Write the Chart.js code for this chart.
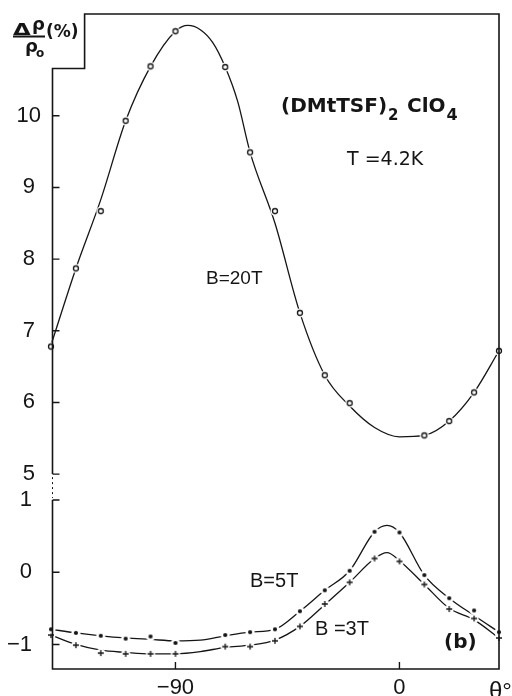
<!DOCTYPE html>
<html>
<head>
<meta charset="utf-8">
<script src="https://cdn.jsdelivr.net/npm/chart.js@4"></script>
<style>
  html, body { margin: 0; padding: 0; background: #fff; }
  canvas { display: block; }
</style>
</head>
<body>
<canvas id="mrChart" width="512" height="696"></canvas>
<script>
// B = 20T, measured points (angle in degrees, delta rho / rho0 in %)
const angles20T = [-140, -130, -120, -110, -100, -90, -70, -60, -50, -40, -30, -20, 10, 20, 30, 40];
const points20T = [6.78, 7.87, 8.67, 9.93, 10.69, 11.18, 10.68, 9.49, 8.67, 7.25, 6.38, 5.99, 5.54, 5.74, 6.14, 6.72];
// hand drawn curve through the 20T points
const fitAngles20T = [-140, -130, -120, -110, -100, -90, -85, -80, -75, -70, -65, -60, -50, -40, -30, -20, -10, 0, 10, 20, 30, 40];
const fit20T = [6.8, 7.87, 8.83, 9.93, 10.69, 11.18, 11.26, 11.2, 11.02, 10.68, 10.2, 9.49, 8.5, 7.25, 6.38, 5.95, 5.65, 5.52, 5.54, 5.74, 6.14, 6.72];

// B = 5T and B = 3T, measured points
const anglesLow = [-140, -130, -120, -110, -100, -90, -70, -60, -50, -40, -30, -20, -10, 0, 10, 20, 30, 40];
const points5T = [-0.79, -0.84, -0.88, -0.92, -0.89, -0.98, -0.87, -0.83, -0.79, -0.54, -0.25, 0.02, 0.56, 0.55, -0.04, -0.36, -0.53, -0.83];
const points3T = [-0.87, -1.01, -1.12, -1.13, -1.13, -1.13, -1.03, -1.03, -0.95, -0.75, -0.44, -0.14, 0.19, 0.15, -0.17, -0.51, -0.64, -0.91];
// curves through them
const fitAnglesLow = [-140, -130, -120, -110, -100, -90, -80, -70, -60, -50, -40, -30, -20, -10, -5, 0, 10, 20, 30, 40];
const fit5T = [-0.79, -0.84, -0.88, -0.91, -0.93, -0.95, -0.94, -0.88, -0.83, -0.79, -0.54, -0.25, 0.02, 0.56, 0.65, 0.55, -0.04, -0.36, -0.6, -0.83];
const fit3T = [-0.87, -1.0, -1.08, -1.11, -1.13, -1.13, -1.1, -1.04, -1.01, -0.94, -0.75, -0.45, -0.14, 0.19, 0.27, 0.16, -0.17, -0.5, -0.66, -0.91];

// tick labels
const xTicks = [-90, 0];
const yTopTicks = [5, 6, 7, 8, 9, 10];
const yBotTicks = [-1, 0, 1];

const ink = '#151515';
const tickFont = { family: 'Liberation Sans', size: 22 };

function pairs(xs, ys) {
  return xs.map((x, i) => ({ x: x, y: ys[i] }));
}

function fmt(v) {
  return v < 0 ? '\u2212' + Math.abs(v) : String(v);
}

// no automatic label padding, the frame is fixed
function fixBox(s, w, h) {
  if (w) s.width = w;
  if (h) s.height = h;
  s.paddingTop = 0;
  s.paddingBottom = 0;
  s.paddingLeft = 0;
  s.paddingRight = 0;
}

// markers with a white halo so the curve looks broken at each point
function makeMarker(kind) {
  const c = document.createElement('canvas');
  c.width = 12;
  c.height = 12;
  const g = c.getContext('2d');
  g.fillStyle = '#fff';
  g.beginPath();
  g.arc(6, 6, 4.6, 0, Math.PI * 2);
  g.fill();
  g.strokeStyle = ink;
  g.fillStyle = ink;
  g.lineWidth = 1.3;
  g.beginPath();
  if (kind === 'ring') {
    g.arc(6, 6, 2.5, 0, Math.PI * 2);
    g.stroke();
  } else if (kind === 'dot') {
    g.arc(6, 6, 2.1, 0, Math.PI * 2);
    g.fill();
  } else {
    g.moveTo(3, 6); g.lineTo(9, 6);
    g.moveTo(6, 3); g.lineTo(6, 9);
    g.stroke();
  }
  return c;
}

// frame with the broken left axis, inner tick marks and the annotations
const framePlugin = {
  id: 'frame',
  afterDraw(chart) {
    const { ctx, chartArea: a, scales: { x, yTop, yBot } } = chart;
    const L = a.left + 1.5, R = a.right, T = a.top, B = a.bottom;
    const y5 = yTop.getPixelForValue(5);
    const y1 = yBot.getPixelForValue(1);
    const stepX = x.getPixelForValue(-126.5);
    const stepY = yTop.getPixelForValue(10.66);

    ctx.save();
    ctx.strokeStyle = ink;
    ctx.lineWidth = 1.6;
    ctx.beginPath();
    ctx.moveTo(L, y5);
    ctx.lineTo(L, stepY);
    ctx.lineTo(stepX, stepY);
    ctx.lineTo(stepX, T);
    ctx.lineTo(R, T);
    ctx.lineTo(R, B);
    ctx.lineTo(L, B);
    ctx.lineTo(L, y1);
    ctx.stroke();

    ctx.lineWidth = 1.4;
    ctx.beginPath();
    yTopTicks.forEach(v => {
      const py = yTop.getPixelForValue(v);
      ctx.moveTo(L, py); ctx.lineTo(L + 7, py);
    });
    yBotTicks.forEach(v => {
      const py = yBot.getPixelForValue(v);
      ctx.moveTo(L, py); ctx.lineTo(L + 7, py);
    });
    xTicks.forEach(v => {
      const px = x.getPixelForValue(v);
      ctx.moveTo(px, B); ctx.lineTo(px, B - 7);
    });
    ctx.stroke();

    // axis break
    ctx.lineWidth = 1;
    ctx.setLineDash([2, 3]);
    ctx.beginPath();
    ctx.moveTo(L, y5 + 3);
    ctx.lineTo(L, y1 - 2);
    ctx.stroke();
    ctx.setLineDash([]);

    ctx.fillStyle = ink;
    ctx.textAlign = 'left';
    ctx.textBaseline = 'alphabetic';

    // y axis title  (delta rho / rho0, %)
    ctx.save();
    ctx.translate(13, 34.5);
    ctx.scale(1.35, 0.95);
    ctx.font = 'bold 17px "DejaVu Sans"';
    ctx.fillText('\u0394', 0, 0);
    ctx.restore();
    ctx.font = 'bold 18px "DejaVu Sans"';
    ctx.fillText('\u03C1', 32, 30);
    ctx.font = 'bold 17px "DejaVu Sans"';
    ctx.fillText('(%)', 46, 37);
    ctx.fillRect(13, 35.5, 32, 2);
    ctx.font = 'bold 18px "DejaVu Sans"';
    ctx.fillText('\u03C1', 25, 51.5);
    ctx.font = 'bold 12px "DejaVu Sans"';
    ctx.fillText('o', 36, 57);

    // compound
    ctx.font = 'bold 20px "DejaVu Sans"';
    ctx.fillText('(DMtTSF)', 281, 112);
    const wName = ctx.measureText('(DMtTSF)').width;
    ctx.fillText('ClO', 407, 112);
    const wClO = ctx.measureText('ClO').width;
    ctx.font = 'bold 15px "DejaVu Sans"';
    ctx.fillText('2', 281 + wName + 1, 120);
    ctx.font = 'bold 16px "DejaVu Sans"';
    ctx.fillText('4', 407 + wClO + 1, 120);

    ctx.font = '19px "DejaVu Sans"';
    ctx.fillText('T =4.2K', 347, 165);

    ctx.font = '19px "Liberation Sans"';
    ctx.fillText('B=20T', 206, 284);
    ctx.font = '20px "Liberation Sans"';
    ctx.fillText('B=5T', 250, 587);
    ctx.fillText('B =3T', 315, 635);

    ctx.font = 'bold 20px "DejaVu Sans"';
    ctx.fillText('(b)', 444, 648);

    ctx.font = '24px "Liberation Sans"';
    ctx.fillText('\u03B8\u00B0', 489, 699);
    ctx.restore();
  }
};

new Chart(document.getElementById('mrChart'), {
  type: 'scatter',
  data: {
    datasets: [
      {
        label: 'B=20T',
        data: pairs(angles20T, points20T),
        yAxisID: 'yTop',
        pointStyle: makeMarker('ring'),
        pointRadius: 4,
        clip: false,
        order: 1
      },
      {
        label: 'B=20T curve',
        data: pairs(fitAngles20T, fit20T),
        yAxisID: 'yTop',
        showLine: true,
        pointRadius: 0,
        borderColor: ink,
        borderWidth: 1.3,
        cubicInterpolationMode: 'monotone',
        order: 2
      },
      {
        label: 'B=5T',
        data: pairs(anglesLow, points5T),
        yAxisID: 'yBot',
        pointStyle: makeMarker('dot'),
        pointRadius: 4,
        clip: false,
        order: 1
      },
      {
        label: 'B=5T curve',
        data: pairs(fitAnglesLow, fit5T),
        yAxisID: 'yBot',
        showLine: true,
        pointRadius: 0,
        borderColor: ink,
        borderWidth: 1.3,
        cubicInterpolationMode: 'monotone',
        order: 2
      },
      {
        label: 'B=3T',
        data: pairs(anglesLow, points3T),
        yAxisID: 'yBot',
        pointStyle: makeMarker('cross'),
        pointRadius: 4,
        clip: false,
        order: 1
      },
      {
        label: 'B=3T curve',
        data: pairs(fitAnglesLow, fit3T),
        yAxisID: 'yBot',
        showLine: true,
        pointRadius: 0,
        borderColor: ink,
        borderWidth: 1.3,
        cubicInterpolationMode: 'monotone',
        order: 2
      }
    ]
  },
  options: {
    responsive: false,
    animation: false,
    devicePixelRatio: 1,
    layout: { padding: { top: 14, right: 13, bottom: 0, left: 0 } },
    plugins: {
      legend: { display: false },
      tooltip: { enabled: false }
    },
    scales: {
      x: {
        type: 'linear',
        position: 'bottom',
        min: -140,
        max: 40,
        grid: { display: false, drawTicks: false },
        border: { display: false },
        afterBuildTicks: s => { s.ticks = xTicks.map(v => ({ value: v })); },
        afterFit: s => fixBox(s, 0, 27),
        ticks: { padding: 6, font: tickFont, color: ink, maxRotation: 0, autoSkip: false, callback: fmt }
      },
      yTop: {
        type: 'linear',
        position: 'left',
        stack: 'left',
        stackWeight: 473,
        weight: 2,
        min: 4.82,
        max: 11.42,
        grid: { display: false, drawTicks: false },
        border: { display: false },
        afterBuildTicks: s => { s.ticks = yTopTicks.map(v => ({ value: v })); },
        afterFit: s => fixBox(s, 51, 0),
        ticks: { crossAlign: 'center', padding: 10, font: tickFont, color: ink, autoSkip: false, callback: fmt }
      },
      yBot: {
        type: 'linear',
        position: 'left',
        stack: 'left',
        stackWeight: 182,
        weight: 1,
        min: -1.34,
        max: 1.18,
        grid: { display: false, drawTicks: false },
        border: { display: false },
        afterBuildTicks: s => { s.ticks = yBotTicks.map(v => ({ value: v })); },
        afterFit: s => fixBox(s, 51, 0),
        ticks: { crossAlign: 'near', padding: 19, font: tickFont, color: ink, autoSkip: false, callback: fmt }
      }
    }
  },
  plugins: [framePlugin]
});
</script>
</body>
</html>
